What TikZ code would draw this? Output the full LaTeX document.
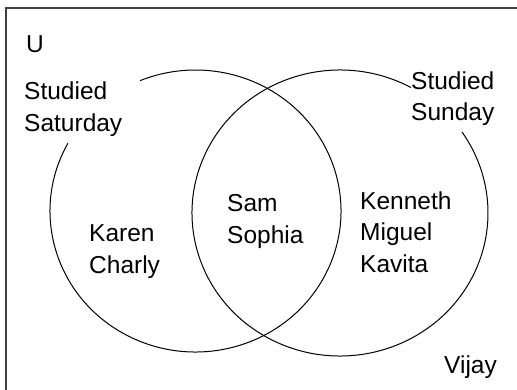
\documentclass[tikz,border=0pt]{standalone}
\usepackage{fontspec}
\setmainfont{Liberation Sans}
\begin{document}
\begin{tikzpicture}[x=1pt,y=1pt,
  lbl/.style={anchor=base west,inner sep=0pt,align=left,font=\fontsize{24.5}{31.5}\selectfont},
  setline/.style={line width=1pt,black},
  framel/.style={line width=2pt,black!75}]
\useasboundingbox (0,0) rectangle (517,389);
\clip (0,0) rectangle (517,389);
% universe frame (cut off at right and bottom)
\coordinate (fbl) at (6,-5);
\coordinate (ftl) at (6,381);
\coordinate (ftr) at (525,381);
\draw[framel] (fbl) -- (ftl) -- (ftr);
% set A: Studied Saturday
\coordinate (ca) at (195.5,178);
\draw[setline] (ca) ++(151.3:145.5 and 141) arc[start angle=151.3,end angle=472.4,x radius=145.5,y radius=141];
% set B: Studied Sunday
\coordinate (cb) at (340,176);
\draw[setline] (cb) ++(61.3:148 and 143) arc[start angle=61.3,end angle=394.5,x radius=148,y radius=143];
% labels (anchor = baseline of last line)
\node[lbl] (u) at (26,336) {U};
\node[lbl] (sat) at (24,258) {Studied\\Saturday};
\node[lbl] (sun) at (411,268) {Studied\\Sunday};
\node[lbl] (both) at (227,146) {Sam\\Sophia};
\node[lbl] (onlya) at (89,116) {Karen\\Charly};
\node[lbl] (onlyb) at (360,117) {Kenneth\\Miguel\\Kavita};
\node[lbl] (none) at (444,16) {Vijay};
\end{tikzpicture}
\end{document}
